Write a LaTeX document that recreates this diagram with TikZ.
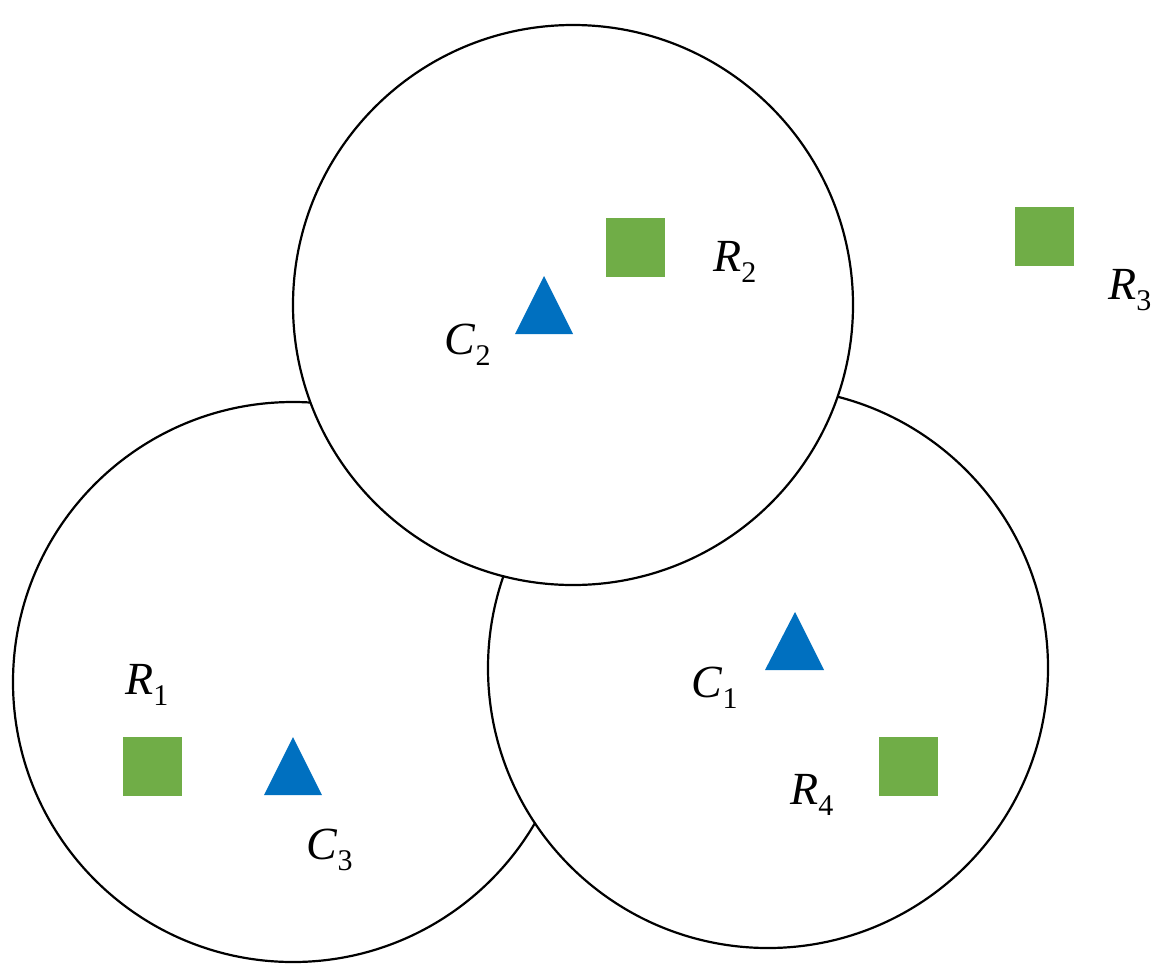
\documentclass[tikz,border=0pt]{standalone}
\usepackage{fontspec}
\setmainfont{Liberation Serif}
\usepackage{unicode-math}
\setmathfont{Latin Modern Math}
\begin{document}
\begin{tikzpicture}[x=1pt,y=-1pt,
  circ/.style={draw=black,line width=2.2pt,fill=white},
  sq/.style={fill=green!50!black!0,fill={rgb,255:red,112;green,173;blue,71},minimum size=59pt,inner sep=0pt,draw=none},
  tri/.style={fill={rgb,255:red,0;green,112;blue,192},draw=none},
  lab/.style={font=\fontsize{46}{50}\selectfont\itshape,inner sep=0pt}]
\useasboundingbox (0,0) rectangle (1172,978);
\draw[circ] (293,682) circle (280);
\draw[circ] (768,668) circle (280);
\draw[circ] (573,305) circle (280);
\node[sq] (r2) at (635.5,247.5) {};
\node[sq] (r3) at (1044,236) {};
\node[sq] (r1) at (152.5,766.5) {};
\node[sq] (r4) at (908,766.5) {};
\fill[tri] (544,276) -- (573,334) -- (515,334) -- cycle;
\fill[tri] (795,612) -- (824,670) -- (765,670) -- cycle;
\fill[tri] (293,737) -- (322,795) -- (264,795) -- cycle;
\node[lab] (lr2) at (735,262) {R\textsubscript{\upshape\fontsize{30}{30}\selectfont 2}};
\node[lab] (lr3) at (1130,290) {R\textsubscript{\upshape\fontsize{30}{30}\selectfont 3}};
\node[lab] (lc2) at (468,345) {C\textsubscript{\upshape\fontsize{30}{30}\selectfont 2}};
\node[lab] (lr1) at (147,685) {R\textsubscript{\upshape\fontsize{30}{30}\selectfont 1}};
\node[lab] (lc1) at (715,688) {C\textsubscript{\upshape\fontsize{30}{30}\selectfont 1}};
\node[lab] (lr4) at (812,795) {R\textsubscript{\upshape\fontsize{30}{30}\selectfont 4}};
\node[lab] (lc3) at (330,850) {C\textsubscript{\upshape\fontsize{30}{30}\selectfont 3}};
\end{tikzpicture}
\end{document}
